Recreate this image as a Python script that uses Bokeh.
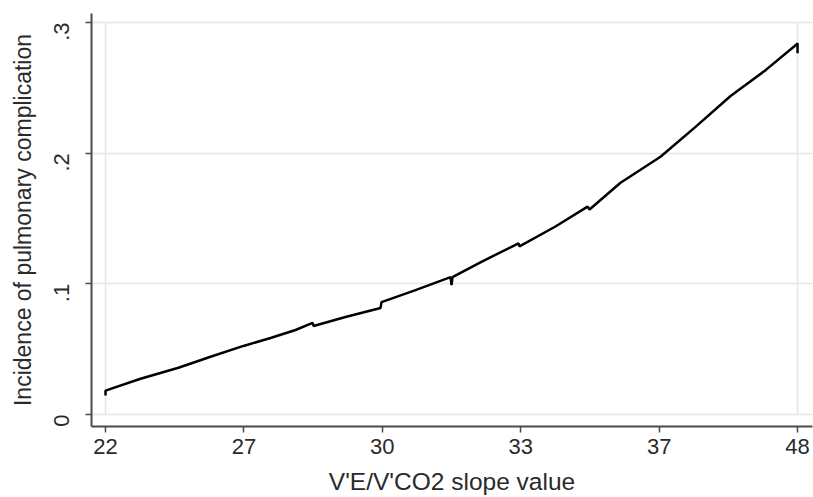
import math
from bokeh.plotting import figure
from bokeh.models import FixedTicker, Range1d
from bokeh.embed import file_html
from bokeh.resources import INLINE

# ---- data ----
x_tick_pos = [0, 1, 2, 3, 4, 5]
x_tick_labels = ["22", "27", "30", "33", "37", "48"]
y_ticks = [0, 0.1, 0.2, 0.3]
y_tick_labels = ["0", ".1", ".2", ".3"]
x_title = "V'E/V'CO2 slope value"
y_title = "Incidence of pulmonary complication"

# position along the ordinal V'E/V'CO2 axis (0 = 22 ... 5 = 48)
curve_x = [0.000, 0.000, 0.253, 0.527, 0.759, 0.997, 1.192, 1.373, 1.496, 1.503,
           1.734, 1.987, 1.994, 2.240, 2.493, 2.500, 2.507, 2.709, 2.984, 2.991,
           3.251, 3.483, 3.497, 3.721, 4.010, 4.263, 4.516, 4.769, 4.986, 5.000, 5.000]
curve_y = [0.0145, 0.0183, 0.0274, 0.0358, 0.0442, 0.0525, 0.0586, 0.0647, 0.0701, 0.0678,
           0.0746, 0.0815, 0.0860, 0.0952, 0.1051, 0.0990, 0.1051, 0.1165, 0.1310, 0.1287,
           0.1439, 0.1591, 0.1569, 0.1774, 0.1972, 0.2201, 0.2437, 0.2635, 0.2825, 0.2840, 0.2764]

FONT = "Liberation Sans"
TXT = "#2a2a2a"
AXC = "#4a4a4a"
GRID = "#e6e6e6"

p = figure(width=813, height=497, output_backend="svg", toolbar_location=None,
           x_range=Range1d(-0.1012, 5.108), y_range=Range1d(-0.00914, 0.30685),
           min_border_left=91, min_border_right=1, min_border_top=13, min_border_bottom=69)
p.outline_line_color = None
p.background_fill_color = "white"
p.border_fill_color = "white"

# grid: horizontal lines at y ticks, vertical only at the outer x ticks
p.xgrid.visible = False
p.ygrid.ticker = FixedTicker(ticks=y_ticks)
p.ygrid.grid_line_color = GRID
p.ygrid.grid_line_width = 1.5
edge_x = [x_tick_pos[0], x_tick_pos[-1]]
p.segment(x0=edge_x, x1=edge_x, y0=[y_ticks[0]] * 2, y1=[y_ticks[-1]] * 2,
          line_color=GRID, line_width=1.5)

p.line(curve_x, curve_y, line_color="black", line_width=2.5)

xa = p.xaxis[0]
xa.ticker = FixedTicker(ticks=x_tick_pos)
xa.major_label_overrides = {t: l for t, l in zip(x_tick_pos, x_tick_labels)}
xa.axis_label = x_title

ya = p.yaxis[0]
ya.ticker = FixedTicker(ticks=y_ticks)
ya.major_label_overrides = {t: l for t, l in zip(y_ticks, y_tick_labels)}
ya.major_label_orientation = math.pi / 2
ya.axis_label = y_title

for ax in (xa, ya):
    ax.axis_line_color = AXC
    ax.axis_line_width = 2
    ax.major_tick_line_color = AXC
    ax.major_tick_line_width = 1.5
    ax.major_tick_out = 6
    ax.major_tick_in = 0
    ax.minor_tick_line_color = None
    ax.major_label_text_font = FONT
    ax.major_label_text_font_size = "22px"
    ax.major_label_text_color = TXT
    ax.axis_label_text_font = FONT
    ax.axis_label_text_font_style = "normal"
    ax.axis_label_text_color = TXT

xa.axis_label_text_font_size = "24.5px"
ya.axis_label_text_font_size = "23px"
xa.major_label_standoff = 6
xa.axis_label_standoff = 11
ya.major_label_standoff = 24
ya.axis_label_standoff = 8

open("out.html", "w").write(file_html(p, INLINE))
